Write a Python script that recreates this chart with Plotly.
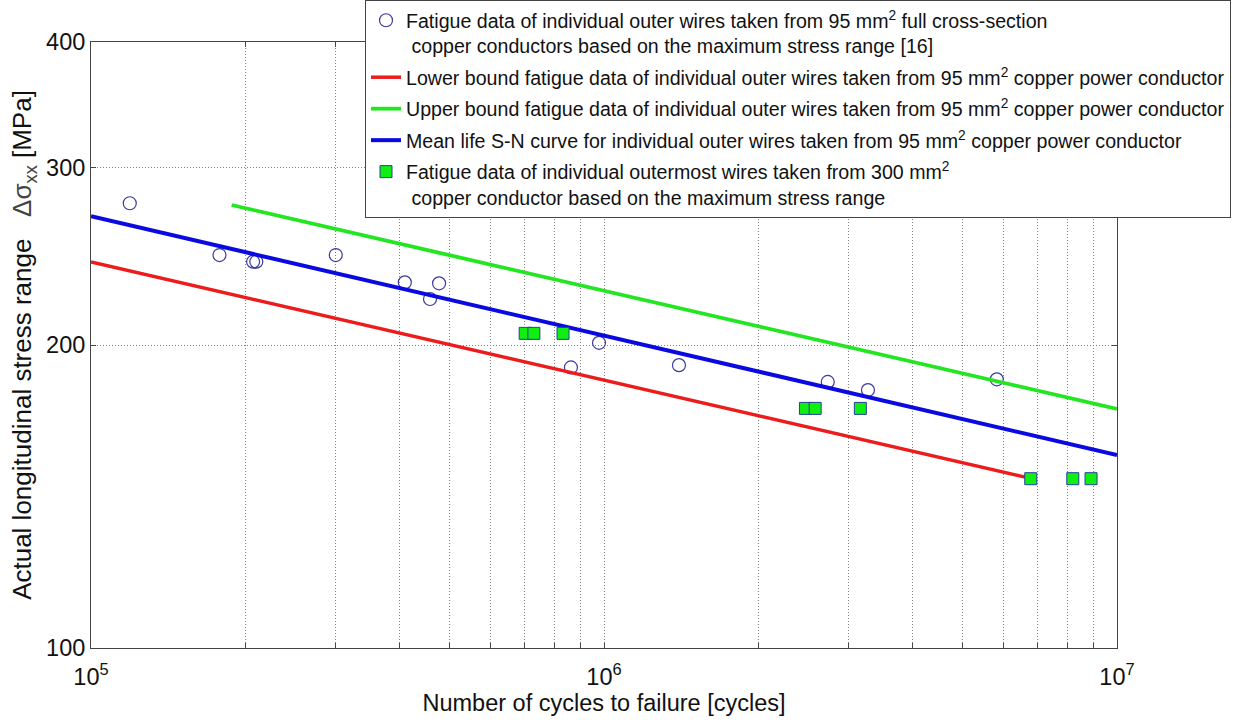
import plotly.graph_objects as go

# ---- data ----
circ_x = [1.19e5, 1.78e5, 2.07e5, 2.10e5, 3.0e5, 4.09e5, 4.58e5, 4.77e5, 8.62e5, 9.78e5, 1.40e6, 2.73e6, 3.27e6, 5.83e6]
circ_y = [276.6, 245.7, 242.0, 242.0, 245.7, 230.8, 222.2, 230.3, 190.0, 201.0, 191.0, 183.8, 180.4, 184.9]

sq_x = [7.02e5, 7.30e5, 8.32e5, 2.47e6, 2.58e6, 3.16e6, 6.79e6, 8.2e6, 8.9e6]
sq_y = [205.4, 205.4, 205.4, 173.0, 173.0, 173.0, 147.3, 147.3, 147.3]

lower_x = [1e5, 6.75e6]
lower_y = [241.8, 147.5]
upper_x = [1.88e5, 1e7]
upper_y = [275.5, 172.8]
mean_x = [1e5, 1e7]
mean_y = [268.5, 155.5]

x_major = [1e5, 1e6, 1e7]
x_major_text = ["10<sup>5</sup>", "10<sup>6</sup>", "10<sup>7</sup>"]
x_minor = [2e5, 3e5, 4e5, 5e5, 6e5, 7e5, 8e5, 9e5,
           2e6, 3e6, 4e6, 5e6, 6e6, 7e6, 8e6, 9e6]
y_ticks = [100, 200, 300, 400]

names = [
    "Fatigue data of individual outer wires taken from 95 mm<sup>2</sup> full cross-section<br>\u00a0copper conductors based on the maximum stress range [16]",
    "Lower bound fatigue data of individual outer wires taken from 95 mm<sup>2</sup> copper power conductor",
    "Upper bound fatigue data of individual outer wires taken from 95 mm<sup>2</sup> copper power conductor",
    "Mean life S-N curve for individual outer wires taken from 95 mm<sup>2</sup> copper power conductor",
    "Fatigue data of individual outermost wires taken from 300 mm<sup>2</sup><br>\u00a0copper conductor based on the maximum stress range",
]

FONT = "Liberation Sans, Arial, Helvetica, sans-serif"
GRIDDASH = "1px,2px"

fig = go.Figure()
fig.add_trace(go.Scatter(x=circ_x, y=circ_y, mode="markers", name=names[0], legendgroup="a",
                         marker=dict(symbol="circle-open", size=13, color="#3a3aa0", line=dict(width=1.2))))
fig.add_trace(go.Scatter(x=lower_x, y=lower_y, mode="lines", name=names[1], legendgroup="b",
                         line=dict(color="#ec1c1c", width=3.5)))
fig.add_trace(go.Scatter(x=upper_x, y=upper_y, mode="lines", name=names[2], legendgroup="c",
                         line=dict(color="#22e622", width=3.8)))
fig.add_trace(go.Scatter(x=mean_x, y=mean_y, mode="lines", name=names[3], legendgroup="d",
                         line=dict(color="#0a0ae0", width=4)))
fig.add_trace(go.Scatter(x=sq_x, y=sq_y, mode="markers", name=names[4], legendgroup="e",
                         marker=dict(symbol="square", size=12, color="#11ee11",
                                     line=dict(color="#2040a0", width=1))))

fig.update_xaxes(
    type="log", range=[5, 7],
    tickvals=x_major, ticktext=x_major_text,
    ticks="inside", ticklen=5, tickcolor="#444",
    showline=True, linecolor="#444", linewidth=1, mirror="ticks",
    showgrid=True, gridcolor="#808080", griddash=GRIDDASH, gridwidth=1,
    minor=dict(tickvals=x_minor, ticks="inside", ticklen=5, tickcolor="#444",
               showgrid=True, gridcolor="#808080", griddash=GRIDDASH, gridwidth=1),
    zeroline=False, ticklabelstandoff=8,
    tickfont=dict(family=FONT, size=23.5, color="#111"),
    title=dict(text="Number of cycles to failure [cycles]", font=dict(family=FONT, size=23.5, color="#111"),
               standoff=4),
)
fig.update_yaxes(
    type="log", range=[2, 0.60206 + 2],
    tickvals=y_ticks, ticktext=[str(v) for v in y_ticks],
    ticks="inside", ticklen=5, tickcolor="#444",
    showline=True, linecolor="#444", linewidth=1, mirror="ticks",
    showgrid=True, gridcolor="#808080", griddash=GRIDDASH, gridwidth=1,
    zeroline=False,
    tickfont=dict(family=FONT, size=23.5, color="#111"),
    title=dict(text="Actual longitudinal stress range\u00a0\u00a0\u00a0<span style='color:#444'>\u0394\u03c3<sub>xx</sub></span> [MPa]",
               font=dict(family=FONT, size=26, color="#111"), standoff=6),
)

fig.update_layout(
    width=1255, height=722,
    margin=dict(l=91, r=138, t=42, b=74, autoexpand=False),
    paper_bgcolor="white", plot_bgcolor="white",
    font=dict(family=FONT, color="#111"),
    showlegend=True,
    legend=dict(
        x=(365 - 91) / 1026, xanchor="left",
        y=(648 - 0) / 606, yanchor="top",
        bgcolor="white", bordercolor="#444", borderwidth=1,
        font=dict(family=FONT, size=19.6, color="#111"),
        tracegroupgap=3, valign="top", traceorder="grouped",
    ),
)

fig.write_html("out.html")
